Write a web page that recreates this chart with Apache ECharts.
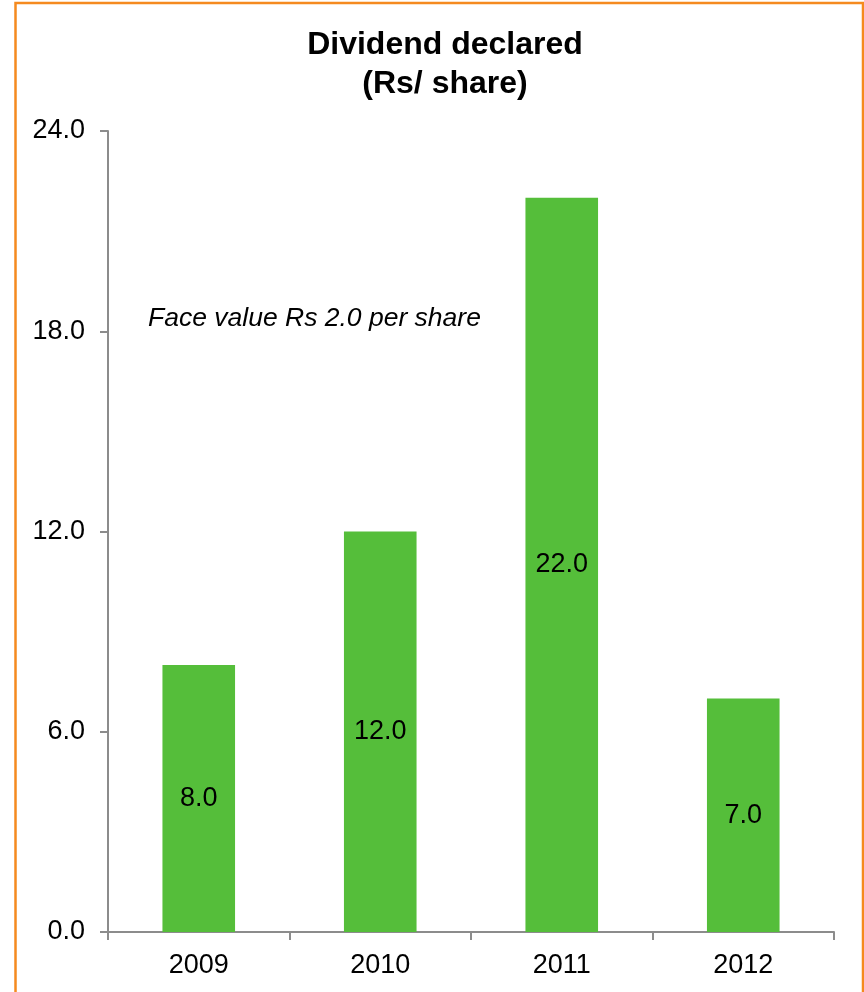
<!DOCTYPE html>
<html>
<head>
<meta charset="utf-8">
<script src="https://cdn.jsdelivr.net/npm/echarts@6/dist/echarts.min.js"></script>
<style>
  html, body { margin: 0; padding: 0; background: #fff; }
  #chart { width: 864px; height: 992px; }
</style>
</head>
<body>
<div id="chart"></div>
<script>
// Dividend per share by year
const years = ['2009', '2010', '2011', '2012'];
const dividends = [8.0, 12.0, 22.0, 7.0];
const yTicks = { min: 0, max: 24, interval: 6 };
const titleLines = ['Dividend declared', '(Rs/ share)'];
const noteText = 'Face value Rs 2.0 per share';

const FONT = '"Liberation Sans", Arial, sans-serif';
const AXIS_GREY = '#8c8c8c';

const chart = echarts.init(document.getElementById('chart'), null, { renderer: 'canvas' });

chart.setOption({
  backgroundColor: '#ffffff',
  animation: false,
  title: {
    text: titleLines.join('\n'),
    left: 440,
    top: 21,
    textAlign: 'center',
    textStyle: {
      fontFamily: FONT,
      fontSize: 32,
      fontWeight: 'bold',
      color: '#000',
      lineHeight: 39
    }
  },
  grid: { left: 108, right: 30, top: 131, bottom: 60, containLabel: false },
  xAxis: {
    type: 'category',
    data: years,
    axisLine: { lineStyle: { color: AXIS_GREY, width: 2 } },
    axisTick: { show: true, length: 8, lineStyle: { color: AXIS_GREY, width: 2 } },
    axisLabel: { fontFamily: FONT, fontSize: 27, color: '#000', margin: 20 },
    splitLine: { show: false }
  },
  yAxis: {
    type: 'value',
    min: yTicks.min,
    max: yTicks.max,
    interval: yTicks.interval,
    axisLine: { show: true, lineStyle: { color: AXIS_GREY, width: 2 } },
    axisTick: { show: true, length: 8, lineStyle: { color: AXIS_GREY, width: 2 } },
    axisLabel: {
      fontFamily: FONT, fontSize: 27, color: '#000', margin: 23,
      formatter: v => v.toFixed(1)
    },
    splitLine: { show: false }
  },
  series: [{
    type: 'bar',
    data: dividends,
    barWidth: '40%',
    itemStyle: { color: '#55BE3A' },
    label: {
      show: true,
      position: 'inside',
      fontFamily: FONT,
      fontSize: 27,
      color: '#000',
      formatter: p => p.value.toFixed(1)
    }
  }],
  graphic: [
    {
      type: 'rect',
      shape: { x: 15.5, y: 3, width: 847.5, height: 1010 },
      style: { fill: null, stroke: '#F58A1F', lineWidth: 2.5 },
      silent: true
    },
    {
      type: 'text',
      left: 148,
      top: 305,
      style: {
        text: noteText,
        fontFamily: FONT,
        fontSize: 26.5,
        fontStyle: 'italic',
        fill: '#000'
      }
    }
  ]
});
</script>
</body>
</html>
